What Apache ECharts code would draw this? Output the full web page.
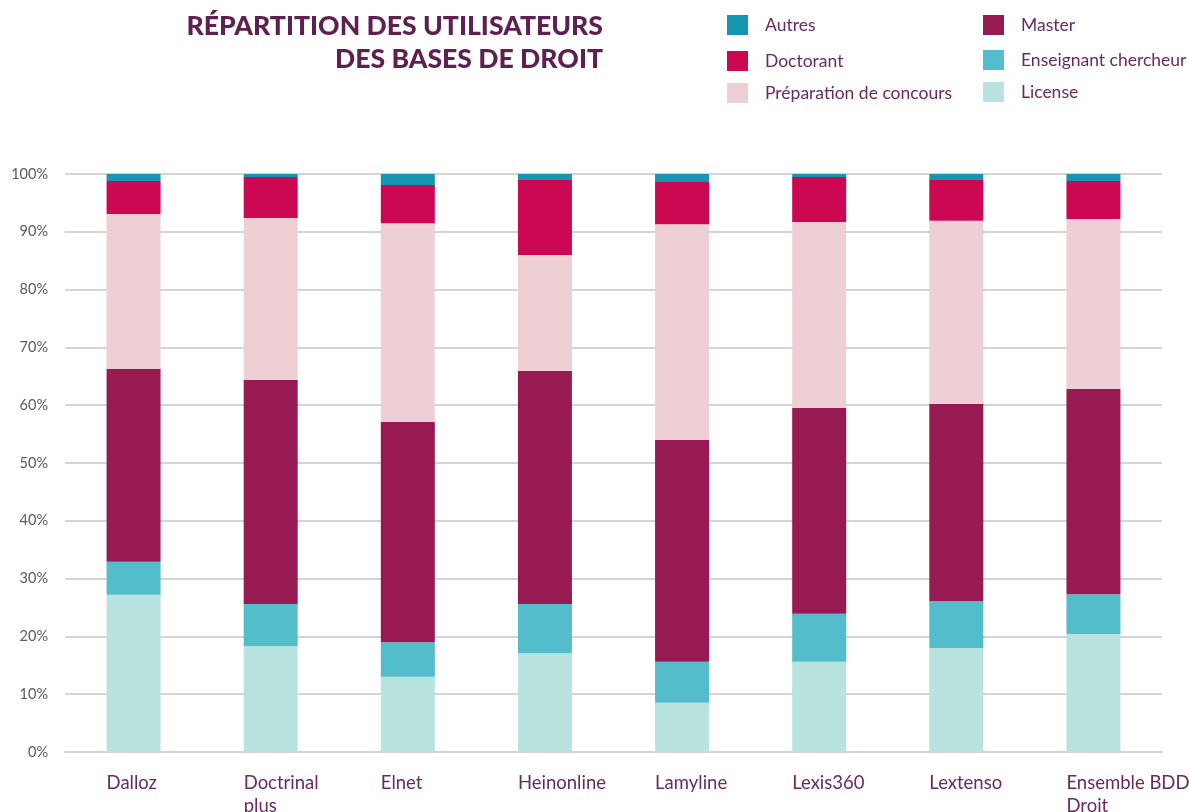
<!DOCTYPE html>
<html>
<head>
<meta charset="utf-8">
<script src="https://cdn.jsdelivr.net/npm/echarts@6/dist/echarts.min.js"></script>
<style>
  html, body { margin: 0; padding: 0; background: #fff; }
  #chart { width: 1189px; height: 812px; }
</style>
</head>
<body>
<div id="chart"></div>
<script>
// bases de droit
const categories = ["Dalloz", "Doctrinal\nplus", "Elnet", "Heinonline", "Lamyline", "Lexis360", "Lextenso", "Ensemble BDD\nDroit"];
const yTicks = [0, 10, 20, 30, 40, 50, 60, 70, 80, 90, 100];

// parts en % (bas vers haut)
const license     = [27.2, 18.3, 13.0, 17.1,  8.5, 15.6, 18.0, 20.4];
const enseignant  = [ 5.7,  7.3,  6.0,  8.5,  7.1,  8.3,  8.1,  6.9];
const master      = [33.4, 38.8, 38.1, 40.3, 38.4, 35.6, 34.1, 35.5];
const preparation = [26.8, 28.0, 34.4, 20.1, 37.3, 32.2, 31.7, 29.4];
const doctorant   = [ 5.7,  7.1,  6.6, 13.1,  7.3,  7.8,  7.2,  6.6];
const autres      = [ 1.2,  0.5,  1.9,  0.9,  1.4,  0.5,  0.9,  1.2];

const purple = "#5e1f51";
const textPurple = "#6a2a5e";
const font = "Lato";

const seriesDefs = [
  { name: "License", data: license, color: "#b9e3df" },
  { name: "Enseignant chercheur", data: enseignant, color: "#54bdcb" },
  { name: "Master", data: master, color: "#981a53" },
  { name: "Préparation de concours", data: preparation, color: "#eecfd3" },
  { name: "Doctorant", data: doctorant, color: "#cc0853" },
  { name: "Autres", data: autres, color: "#1697b1" }
];

// legend placement: [name, left, top]
const legendPos = [
  ["Autres", 727, 15],
  ["Doctorant", 727, 51],
  ["Préparation de concours", 727, 83],
  ["Master", 983, 15],
  ["Enseignant chercheur", 983, 50],
  ["License", 983, 82]
];

const chart = echarts.init(document.getElementById("chart"), null, { renderer: "canvas" });

chart.setOption({
  animation: false,
  textStyle: { fontFamily: font },
  graphic: [{
    type: "text",
    x: 603,
    y: 10,
    style: {
      text: "RÉPARTITION DES UTILISATEURS\nDES BASES DE DROIT",
      align: "right",
      verticalAlign: "top",
      fontFamily: font,
      fontWeight: 900,
      fontSize: 26.6,
      lineHeight: 33,
      fill: purple
    }
  }],
  legend: legendPos.map(function (p) {
    return {
      data: [p[0]],
      left: p[1],
      top: p[2],
      padding: 0,
      itemWidth: 21,
      itemHeight: 20,
      icon: "rect",
      textStyle: { fontFamily: font, fontSize: 17.5, color: textPurple, padding: [5, 0, 0, 12] }
    };
  }),
  grid: [
    { left: 65, right: 27, top: 174, bottom: 60, outerBoundsMode: "none" },
    { left: 38, right: 54, top: 174, bottom: 60, outerBoundsMode: "none" }
  ],
  xAxis: [
    {
      type: "category",
      gridIndex: 0,
      data: categories,
      axisLine: { lineStyle: { color: "#d4d4d4", width: 2 } },
      axisTick: { show: false },
      axisLabel: { show: false }
    },
    {
      type: "category",
      gridIndex: 1,
      data: categories,
      axisLine: { show: false },
      axisTick: { show: false },
      axisLabel: {
        interval: 0,
        align: "left",
        margin: 20,
        fontFamily: font,
        fontSize: 18.5,
        lineHeight: 23,
        color: textPurple
      }
    }
  ],
  yAxis: [
    {
      type: "value",
      gridIndex: 0,
      min: 0,
      max: 100,
      interval: 10,
      axisLine: { show: false },
      axisTick: { show: false },
      splitLine: { lineStyle: { color: "#d4d4d4", width: 2 } },
      axisLabel: {
        margin: 17,
        fontFamily: font,
        fontSize: 14.5,
        color: "#5a5a5a",
        formatter: function (v) { return yTicks.indexOf(v) >= 0 ? v + "%" : ""; }
      }
    },
    {
      type: "value",
      gridIndex: 1,
      min: 0,
      max: 100,
      show: false
    }
  ],
  series: seriesDefs.map(function (s) {
    return {
      name: s.name,
      type: "bar",
      stack: "total",
      xAxisIndex: 0,
      yAxisIndex: 0,
      barWidth: 54,
      itemStyle: { color: s.color },
      data: s.data
    };
  })
});
</script>
</body>
</html>
